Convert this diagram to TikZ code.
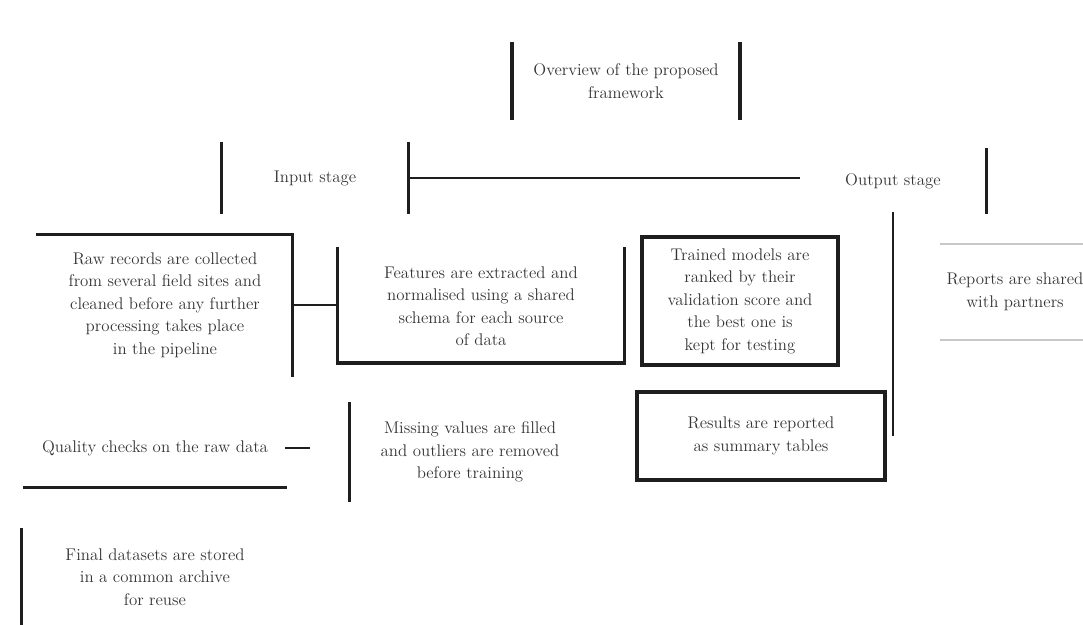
\documentclass[tikz,border=0pt]{standalone}
\usepackage{tikz}
\usetikzlibrary{positioning}
\definecolor{ink}{RGB}{30,30,30}

\begin{document}
\begin{tikzpicture}[x=0.025cm, y=-0.025cm,
    cell/.style={rectangle, inner sep=3pt, align=center, text=ink!90,
        font={\fontsize{12}{16}\selectfont}},
    rule/.style={line width=2.4pt, draw=ink, line cap=rect},
    link/.style={line width=1.8pt, draw=ink},
    faint/.style={line width=1.2pt, draw=ink!25}
]

\useasboundingbox (0,0) rectangle (1083,624);

% top level
\node[cell, minimum width=5.68cm, minimum height=1.83cm] (root) at (626,81) {Overview of the proposed\\framework};
\draw[rule] (root.north west) -- (root.south west);
\draw[rule] (root.north east) -- (root.south east);

% second level
\node[cell, minimum width=4.65cm, minimum height=1.68cm] (inputs) at (315,178) {Input stage};
\draw[rule] (inputs.north west) -- (inputs.south west);
\draw[rule] (inputs.north east) -- (inputs.south east);

\node[cell, minimum width=4.65cm, minimum height=1.55cm] (outputs) at (893,181) {Output stage};
\draw[rule] (outputs.north east) -- (outputs.south east);

\draw[link] (inputs.east) -- (inputs.east -| outputs.west);

% third level
\node[cell, minimum width=6.35cm, minimum height=3.5cm] (collect) at (165,305) {Raw records are collected\\from several field sites and\\cleaned before any further\\processing takes place\\in the pipeline};
\draw[rule] (collect.north west) -- (collect.north east) -- (collect.south east);

\node[cell, minimum width=7.15cm, minimum height=2.83cm] (extract) at (481,306) {Features are extracted and\\normalised using a shared\\schema for each source\\of data};
\draw[rule] (extract.north west) -- (extract.south west) -- (extract.south east) -- (extract.north east);
\draw[link] (collect.east) -- (collect.east -| extract.west);

\node[cell, minimum width=4.9cm, minimum height=3.2cm, draw=ink, line width=2.4pt] (rank) at (740,301) {Trained models are\\ranked by their\\validation score and\\the best one is\\kept for testing};

\node[cell, minimum width=3.75cm, minimum height=2.38cm] (share) at (1015,292) {Reports are shared\\with partners};
\draw[faint] (share.north west) -- (share.north east);
\draw[faint] (share.south west) -- (share.south east);

% fourth level
\node[cell, minimum width=6.5cm, minimum height=1.95cm] (checks) at (155,448) {Quality checks on the raw data};
\draw[rule] (checks.south west) -- (checks.south east);
\coordinate[right=0.62cm of checks.east] (checksend);
\draw[link] (checks.east) -- (checksend);

\node[cell, minimum width=6cm, minimum height=2.38cm] (clean) at (470,452) {Missing values are filled\\and outliers are removed\\before training};
\draw[rule] (clean.north west) -- (clean.south west);

\node[cell, minimum width=6.2cm, minimum height=2.2cm, draw=ink, line width=2.4pt] (report) at (761,436) {Results are reported\\as summary tables};

\draw[link] (outputs.south) -- (outputs.south |- report.east);

% fifth level
\node[cell, minimum width=6.65cm, minimum height=2.35cm] (store) at (155,577) {Final datasets are stored\\in a common archive\\for reuse};
\draw[rule] (store.north west) -- (store.south west);

\end{tikzpicture}
\end{document}
